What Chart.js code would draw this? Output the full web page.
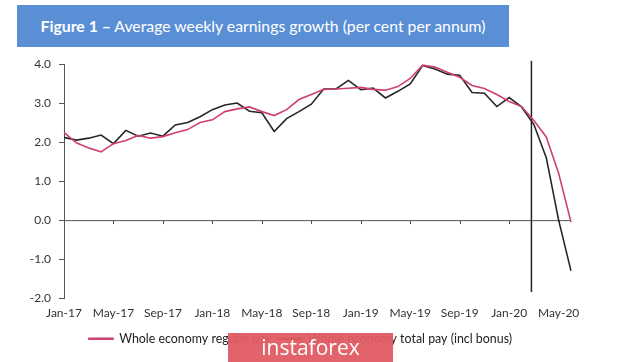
<!DOCTYPE html>
<html>
<head>
<meta charset="utf-8">
<script src="https://cdn.jsdelivr.net/npm/chart.js@4.4.1/dist/chart.umd.min.js"></script>
<style>
  body { margin: 0; background: #fff; }
  #wrap { position: relative; width: 620px; height: 362px; }
  #banner {
    position: absolute; left: 17px; top: 5px; width: 492px; height: 42px;
    background: #5a8fd6; color: #fff; font-family: Lato, sans-serif; font-size: 15.8px;
    line-height: 42px; text-align: center; white-space: nowrap;
  }
  #banner b { font-weight: 700; }
  #mark {
    position: absolute; left: 228px; top: 333px; width: 165px; height: 29px;
    background: rgba(224, 92, 98, 0.95); color: #fff; font-family: "Open Sans", sans-serif;
    font-size: 21px; line-height: 28px; text-align: center;
  }
</style>
</head>
<body>
<div id="wrap">
  <canvas id="earningsChart" width="620" height="362"></canvas>
  <div id="banner"><b>Figure 1 –</b> Average weekly earnings growth (per cent per annum)</div>
  <div id="mark">instaforex</div>
</div>
<script>
// monthly categories, Jan-17 .. Jun-20
const months = [
  'Jan-17','Feb-17','Mar-17','Apr-17','May-17','Jun-17','Jul-17','Aug-17','Sep-17','Oct-17','Nov-17','Dec-17',
  'Jan-18','Feb-18','Mar-18','Apr-18','May-18','Jun-18','Jul-18','Aug-18','Sep-18','Oct-18','Nov-18','Dec-18',
  'Jan-19','Feb-19','Mar-19','Apr-19','May-19','Jun-19','Jul-19','Aug-19','Sep-19','Oct-19','Nov-19','Dec-19',
  'Jan-20','Feb-20','Mar-20','Apr-20','May-20','Jun-20'
];
const tickLabels = ['Jan-17','May-17','Sep-17','Jan-18','May-18','Sep-18','Jan-19','May-19','Sep-19','Jan-20','May-20'];

const regularPay = [
  2.25, 1.98, 1.85, 1.75, 1.96, 2.04, 2.17, 2.10, 2.14, 2.24, 2.32, 2.50,
  2.57, 2.78, 2.85, 2.90, 2.78, 2.68, 2.83, 3.09, 3.22, 3.35, 3.36, 3.38,
  3.40, 3.35, 3.33, 3.42, 3.63, 3.97, 3.92, 3.79, 3.66, 3.45, 3.37, 3.22,
  3.04, 2.91, 2.55, 2.13, 1.20, -0.05
];
const totalPay = [
  2.12, 2.05, 2.10, 2.18, 1.96, 2.30, 2.15, 2.23, 2.15, 2.44, 2.50, 2.65,
  2.83, 2.95, 3.00, 2.79, 2.75, 2.27, 2.60, 2.78, 2.97, 3.36, 3.36, 3.58,
  3.34, 3.38, 3.13, 3.30, 3.49, 3.96, 3.87, 3.74, 3.71, 3.27, 3.25, 2.91,
  3.14, 2.90, 2.45, 1.60, 0.00, -1.30
];

// lockdown marker sits between Feb-20 and Mar-20
const markerIndex = 37.8;

const axisPlugin = {
  id: 'zeroAxis',
  beforeDatasetsDraw(chart) {
    const { ctx, chartArea, scales: { x, y } } = chart;
    const y0 = y.getPixelForValue(0);
    ctx.save();
    ctx.strokeStyle = '#555';
    ctx.lineWidth = 1;
    ctx.beginPath();
    ctx.moveTo(chartArea.left, y0 + 0.5);
    ctx.lineTo(chartArea.right, y0 + 0.5);
    months.forEach((m, i) => {
      if (i > 0 && tickLabels.includes(m)) {
        const px = Math.round(x.getPixelForValue(i)) + 0.5;
        ctx.moveTo(px, y0);
        ctx.lineTo(px, y0 + 4);
      }
    });
    ctx.stroke();
    // vertical marker
    const a = x.getPixelForValue(Math.floor(markerIndex));
    const b = x.getPixelForValue(Math.ceil(markerIndex));
    const mx = a + (b - a) * (markerIndex - Math.floor(markerIndex));
    ctx.strokeStyle = '#222';
    ctx.lineWidth = 1.5;
    ctx.beginPath();
    ctx.moveTo(mx, y.getPixelForValue(4.08));
    ctx.lineTo(mx, y.getPixelForValue(-1.84));
    ctx.stroke();
    ctx.restore();
  }
};

Chart.defaults.font.family = 'Lato, sans-serif';
Chart.defaults.font.size = 12;
Chart.defaults.color = '#333';

const ctx = document.getElementById('earningsChart').getContext('2d');
new Chart(ctx, {
  type: 'line',
  data: {
    labels: months,
    datasets: [{
      label: 'Whole economy regular pay',
      data: regularPay,
      borderColor: '#cf3f6f',
      backgroundColor: '#cf3f6f',
      borderWidth: 1.6,
      pointRadius: 0,
      tension: 0
    }, {
      label: 'Whole economy total pay (incl bonus)',
      data: totalPay,
      borderColor: '#262626',
      backgroundColor: '#262626',
      borderWidth: 1.6,
      pointRadius: 0,
      tension: 0
    }]
  },
  options: {
    responsive: false,
    animation: false,
    layout: { padding: { top: 64, left: 30, right: 49, bottom: 7 } },
    plugins: {
      legend: {
        position: 'bottom',
        labels: { boxWidth: 24, boxHeight: 1, padding: 6, color: '#222', font: { size: 12.4 } }
      },
      tooltip: { enabled: false }
    },
    scales: {
      x: {
        grid: { display: false },
        border: { display: false },
        ticks: {
          autoSkip: false, maxRotation: 0, padding: 0,
          callback(v, i) { return tickLabels.includes(months[i]) ? months[i] : null; }
        },
        afterFit(s) { s.height += 6; }
      },
      y: {
        min: -2, max: 4,
        grid: { drawOnChartArea: false, drawTicks: true, tickLength: 5, color: '#555' },
        border: { color: '#555' },
        ticks: { stepSize: 1, padding: 8, callback: v => v.toFixed(1) },
        afterFit(s) { s.width = 34; }
      }
    }
  },
  plugins: [axisPlugin]
});
</script>
</body>
</html>
